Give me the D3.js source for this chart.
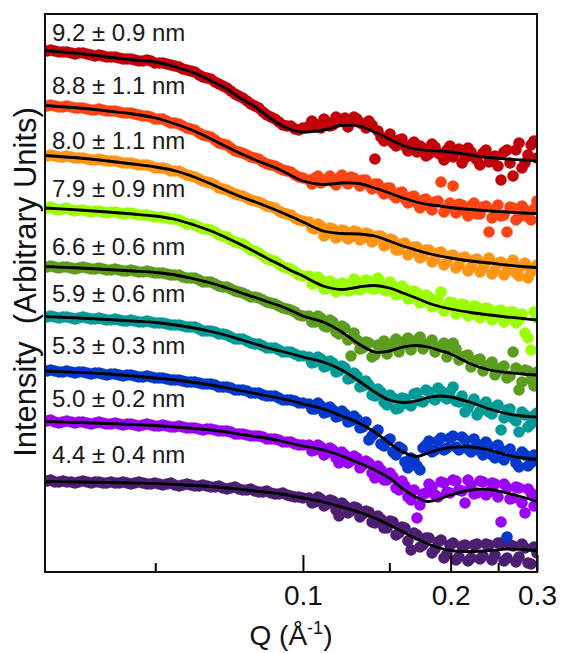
<!DOCTYPE html>
<html>
<head>
<meta charset="utf-8">
<script src="https://cdn.jsdelivr.net/npm/d3@7"></script>
<style>
  body { margin: 0; background: #fff; }
  svg { display: block; font-family: "Liberation Sans", Arial, Helvetica, sans-serif; }
</style>
</head>
<body>
<svg id="chart" width="561" height="653"></svg>
<script>
// Scattering vector Q (1/Å) of the model curves
const qFit = [0.0298, 0.035, 0.04, 0.045, 0.05, 0.055, 0.06, 0.065, 0.07, 0.075, 0.08, 0.085, 0.09, 0.095,
  0.1, 0.11, 0.12, 0.13, 0.14, 0.15, 0.16, 0.17, 0.18, 0.19, 0.2, 0.22, 0.24, 0.26, 0.28, 0.3];

// Scattering vector Q (1/Å) of the measured points, first frame set
const qScanA = [0.0301, 0.0312, 0.0324, 0.0337, 0.0349, 0.0363, 0.0377, 0.0391, 0.0406, 0.0422, 0.0438, 0.0454,
  0.0472, 0.0490, 0.0509, 0.0528, 0.0548, 0.0569, 0.0591, 0.0614, 0.0637, 0.0662, 0.0687, 0.0713, 0.0740,
  0.0769, 0.0798, 0.0829, 0.0860, 0.0893, 0.0928, 0.0963, 0.1000,
  0.1029, 0.1058, 0.1088, 0.1119, 0.1151, 0.1184, 0.1218, 0.1253, 0.1289, 0.1325, 0.1363, 0.1402, 0.1442,
  0.1484, 0.1526, 0.1570, 0.1614, 0.1661, 0.1708, 0.1757, 0.1807, 0.1859, 0.1912, 0.1966, 0.2023, 0.2080,
  0.2140, 0.2201, 0.2264, 0.2328, 0.2395, 0.2463, 0.2534, 0.2606, 0.2681, 0.2757, 0.2836, 0.2917, 0.3000];

// Scattering vector Q (1/Å) of the measured points, second frame set
const qScanB = [0.0306, 0.0318, 0.0330, 0.0343, 0.0356, 0.0370, 0.0384, 0.0398, 0.0414, 0.0430, 0.0446, 0.0463,
  0.0481, 0.0499, 0.0518, 0.0538, 0.0559, 0.0580, 0.0602, 0.0625, 0.0649, 0.0674, 0.0700, 0.0727, 0.0754,
  0.0783, 0.0813, 0.0844, 0.0877, 0.0910, 0.0945, 0.0981,
  0.1043, 0.1073, 0.1104, 0.1135, 0.1168, 0.1201, 0.1235, 0.1271, 0.1307, 0.1344, 0.1383, 0.1422, 0.1463,
  0.1505, 0.1548, 0.1592, 0.1637, 0.1684, 0.1732, 0.1782, 0.1833, 0.1885, 0.1939, 0.1994, 0.2051, 0.2110,
  0.2170, 0.2232, 0.2296, 0.2361, 0.2429, 0.2498, 0.2570, 0.2643, 0.2718, 0.2796, 0.2876, 0.2958];

// Fitted model intensities (log scale, arbitrary units, stacked with offsets)
const fit92 = [549.5, 546.5, 543, 540, 538, 533, 527, 519, 511, 501, 493, 483, 475, 470, 468, 470, 474.5, 474, 468, 461, 454.5, 451, 449.5, 449, 448, 445, 442.5, 441, 440, 439];
const fit88 = [494.5, 492, 489, 486, 482, 476, 469, 461, 453, 446, 440, 435, 430, 424, 419, 415.5, 417, 416.5, 412, 407, 402, 398, 395.5, 394, 392.5, 390.5, 389, 388, 387, 386.5];
const fit80 = [444.5, 442, 439, 436, 433, 429, 423, 416, 409, 403, 398, 393, 388, 383, 378, 369, 366.5, 366, 364, 359, 354, 350, 346.5, 344, 342, 339, 337, 335, 333.5, 332.5];
const fit79 = [392, 390, 388, 386, 384, 380.5, 375, 369, 362, 355, 348, 341, 335, 329, 324, 314, 310.5, 313, 314.5, 312, 307, 302, 297, 293.5, 291, 287.5, 285, 283, 281.5, 280];
const fit66 = [333.5, 332, 330.5, 329, 327.5, 325, 321, 317, 312, 307, 302.5, 298, 294, 289, 284, 278, 268, 256, 248, 249, 253, 254.5, 253, 249.5, 246, 236, 230, 227.5, 226, 225];
const fit59 = [283.5, 282, 280.5, 279, 277.5, 275, 272, 268.5, 264.5, 260, 256, 252, 249, 246, 243, 238, 230, 219, 208, 200, 197.5, 199, 202.5, 204, 203, 197.5, 191, 186.5, 184, 183];
const fit53 = [229, 227.5, 226, 224, 222, 220, 217.5, 215, 212, 209, 206.5, 204, 201.5, 199, 196, 191, 184, 177, 168, 157, 148, 143.5, 147, 150.5, 152.5, 153, 150, 145, 142, 140.5];
const fit50 = [178.5, 177.5, 176.5, 175.5, 174.5, 173, 171.5, 170, 168, 165.5, 163.5, 161.5, 159, 156.5, 154, 150, 144, 137, 130, 122, 111, 103, 98.5, 101, 105, 110, 110.5, 107, 103, 98.5];
const fit44 = [118.5, 118, 117.5, 117, 116.5, 115.5, 114.5, 113.5, 112, 110.5, 109, 107.5, 106, 104, 102, 98, 93, 88, 82, 75, 68, 61.5, 56, 52, 49.5, 48.5, 49.5, 51, 50.5, 49.5];

// Measured intensities on qScanA (log scale, arbitrary units, same offsets)
const obs92a = [549, 549, 548, 547, 547, 546, 544, 544, 543, 542, 541, 540, 539, 539, 537, 536, 534, 531, 529, 525, 522, 518, 514, 509, 504, 499, 494, 488, 483, 478, 474, 471, 472,
  474, 476, 472, 478, 475, 480, 482, 478, 481, 476, 479, 441, 463, 461, 457, 460, 454, 455, 448, 452, 446, 453, 445, 450, 443, 451, 442, 448, 440, 447, 438, 444, 420, 450, 424, 457, 437, 455, 442];
const obs88a = [494, 494, 493, 493, 492, 491, 490, 490, 489, 488, 487, 486, 484, 483, 481, 479, 477, 474, 471, 467, 464, 460, 456, 452, 448, 445, 442, 438, 435, 432, 429, 425, 422,
  420, 422, 417, 421, 418, 422, 419, 423, 418, 420, 415, 416, 410, 412, 405, 407, 401, 403, 397, 400, 394, 398, 418, 392, 414, 396, 389, 394, 386, 393, 368, 391, 384, 368, 392, 383, 390, 380, 399];
const obs80a = [444, 444, 443, 443, 442, 441, 440, 440, 439, 438, 437, 436, 435, 434, 432, 431, 429, 427, 424, 421, 418, 415, 411, 408, 405, 402, 399, 396, 393, 389, 386, 382, 379,
  378, 371, 374, 366, 371, 364, 369, 363, 368, 362, 366, 360, 364, 356, 360, 350, 357, 348, 353, 344, 350, 341, 348, 338, 345, 335, 343, 333, 341, 332, 342, 330, 338, 329, 340, 324, 337, 328, 335];
const obs79a = [392, 391, 391, 390, 390, 389, 389, 388, 388, 387, 387, 386, 385, 384, 383, 382, 381, 378, 376, 373, 371, 368, 364, 360, 357, 353, 349, 344, 340, 336, 332, 328, 324,
  324, 317, 320, 312, 317, 310, 316, 310, 318, 312, 319, 311, 317, 309, 314, 306, 311, 302, 307, 298, 303, 295, 308, 293, 297, 288, 295, 286, 293, 285, 291, 283, 290, 282, 288, 280, 267, 250, 282];
const obs66a = [333, 333, 333, 332, 332, 332, 331, 331, 330, 330, 329, 329, 328, 328, 327, 326, 325, 323, 322, 320, 318, 316, 313, 311, 308, 305, 303, 300, 297, 294, 291, 288, 284,
  284, 278, 282, 273, 278, 266, 272, 244, 260, 252, 257, 245, 254, 246, 257, 248, 259, 250, 260, 251, 256, 248, 253, 243, 257, 240, 244, 233, 240, 229, 235, 225, 232, 222, 248, 210, 230, 220, 228];
const obs59a = [283, 283, 283, 282, 282, 282, 281, 281, 280, 280, 279, 279, 278, 278, 277, 276, 275, 274, 273, 271, 269, 268, 266, 263, 261, 259, 256, 254, 252, 250, 248, 246, 244,
  243, 238, 241, 234, 237, 229, 232, 222, 224, 214, 215, 204, 208, 195, 202, 192, 201, 194, 207, 198, 208, 200, 209, 201, 213, 198, 188, 197, 185, 195, 188, 193, 170, 190, 182, 168, 185, 176, 187];
const obs53a = [229, 229, 228, 228, 228, 227, 227, 226, 226, 225, 225, 224, 223, 223, 222, 221, 220, 219, 218, 217, 216, 215, 213, 212, 210, 209, 207, 205, 204, 202, 200, 199, 197,
  196, 191, 194, 188, 190, 184, 186, 179, 181, 173, 160, 167, 156, 159, 148, 153, 138, 142, 134, 152, 159, 150, 162, 152, 164, 150, 160, 148, 156, 145, 154, 142, 150, 63, 144, 133, 145, 137, 142];
const obs50a = [179, 178, 178, 178, 178, 177, 177, 177, 176, 176, 176, 175, 175, 175, 174, 174, 173, 173, 172, 171, 171, 170, 169, 168, 166, 165, 164, 163, 161, 160, 158, 156, 155,
  155, 150, 153, 147, 150, 137, 145, 139, 142, 135, 137, 122, 130, 120, 123, 110, 114, 100, 82, 106, 116, 105, 118, 108, 120, 110, 97, 115, 107, 118, 108, 116, 78, 112, 102, 112, 87, 107, 100];
const obs44a = [119, 118, 119, 118, 118, 118, 118, 117, 118, 117, 117, 117, 117, 116, 116, 116, 115, 115, 115, 114, 114, 113, 112, 112, 111, 110, 109, 108, 107, 106, 105, 103, 102,
  102, 98, 101, 96, 99, 84, 94, 89, 92, 86, 88, 77, 81, 72, 78, 67, 72, 50, 65, 55, 62, 51, 60, 46, 57, 43, 55, 42, 56, 44, 55, 45, 57, 42, 54, 43, 52, 36, 47];

// Measured intensities on qScanB
const obs92b = [550, 548, 548, 546, 547, 545, 545, 543, 543, 541, 541, 539, 540, 537, 537, 535, 533, 530, 528, 523, 521, 516, 512, 506, 502, 496, 492, 485, 481, 475, 474, 470,
  479, 473, 481, 474, 483, 479, 473, 483, 477, 472, 475, 469, 459, 466, 454, 461, 449, 458, 454, 444, 456, 447, 440, 454, 448, 437, 452, 443, 435, 450, 441, 434, 448, 437, 450, 432, 445, 459];
const obs88b = [495, 493, 494, 492, 492, 490, 491, 489, 489, 487, 487, 485, 484, 481, 481, 477, 476, 472, 470, 465, 463, 457, 455, 449, 447, 443, 441, 436, 434, 430, 428, 423,
  416, 424, 419, 424, 415, 425, 416, 422, 414, 420, 411, 416, 406, 412, 402, 408, 397, 404, 392, 401, 390, 399, 388, 397, 387, 395, 384, 397, 386, 394, 382, 395, 385, 393, 380, 394, 383, 391];
const obs80b = [445, 443, 444, 442, 442, 440, 441, 439, 439, 437, 437, 435, 435, 432, 432, 429, 429, 425, 423, 419, 417, 412, 410, 406, 404, 400, 398, 394, 392, 387, 385, 380,
  372, 376, 364, 372, 362, 370, 361, 369, 360, 367, 358, 364, 354, 361, 350, 356, 345, 353, 342, 350, 338, 347, 335, 344, 332, 342, 329, 340, 328, 338, 326, 337, 325, 336, 327, 334, 322, 332];
const obs79b = [393, 390, 392, 389, 390, 388, 389, 387, 388, 386, 387, 385, 385, 383, 383, 381, 380, 376, 375, 371, 370, 365, 363, 358, 356, 350, 347, 341, 339, 333, 331, 325,
  316, 323, 311, 319, 308, 317, 309, 321, 310, 320, 311, 322, 310, 318, 305, 314, 301, 309, 297, 305, 293, 301, 289, 298, 286, 296, 284, 294, 282, 292, 280, 289, 278, 288, 277, 286, 262, 288];
const obs66b = [334, 332, 333, 331, 333, 331, 332, 330, 331, 329, 330, 328, 329, 327, 327, 325, 325, 322, 322, 318, 318, 314, 313, 309, 307, 303, 302, 298, 296, 292, 290, 285,
  278, 284, 274, 280, 268, 274, 260, 267, 251, 258, 243, 255, 259, 253, 261, 255, 262, 257, 263, 256, 260, 253, 257, 249, 251, 243, 245, 238, 241, 234, 238, 229, 234, 224, 232, 218, 229, 214];
const obs59b = [284, 282, 283, 281, 283, 281, 282, 280, 281, 279, 280, 278, 279, 277, 277, 275, 275, 273, 273, 269, 269, 266, 265, 261, 261, 257, 256, 252, 252, 248, 248, 244,
  237, 243, 233, 239, 228, 234, 221, 227, 213, 219, 205, 211, 198, 205, 191, 202, 196, 206, 199, 210, 202, 212, 203, 208, 199, 204, 192, 201, 189, 198, 186, 195, 182, 191, 179, 188, 173, 184];
const obs53b = [230, 228, 229, 227, 228, 226, 227, 225, 226, 224, 225, 223, 224, 222, 222, 220, 220, 218, 218, 216, 216, 213, 213, 210, 210, 207, 207, 204, 204, 200, 200, 197,
  191, 197, 187, 193, 183, 189, 178, 184, 172, 178, 164, 170, 154, 161, 145, 151, 132, 140, 130, 155, 148, 159, 150, 162, 153, 163, 151, 161, 149, 158, 145, 155, 140, 151, 137, 148, 134, 145];
const obs50b = [180, 177, 179, 177, 178, 176, 178, 176, 177, 175, 176, 174, 176, 174, 175, 173, 174, 172, 172, 170, 171, 169, 169, 166, 166, 164, 164, 161, 161, 158, 158, 155,
  149, 155, 145, 152, 142, 148, 137, 144, 132, 139, 127, 134, 120, 127, 112, 119, 103, 110, 95, 107, 113, 103, 117, 107, 119, 109, 120, 106, 119, 105, 117, 103, 116, 101, 113, 97, 111, 94];
const obs44b = [120, 118, 118, 117, 119, 117, 118, 117, 117, 118, 116, 118, 116, 117, 115, 117, 114, 116, 114, 115, 113, 114, 111, 113, 110, 111, 108, 109, 106, 107, 104, 103,
  97, 103, 94, 100, 90, 97, 87, 93, 83, 89, 78, 84, 72, 79, 65, 73, 59, 67, 53, 62, 47, 58, 42, 55, 40, 54, 39, 55, 41, 56, 40, 57, 39, 55, 38, 56, 37, 53];

// Particle sizes and series colours, top to bottom
const sizeLabels = ["9.2 ± 0.9 nm", "8.8 ± 1.1 nm", "8.0 ± 1.1 nm", "7.9 ± 0.9 nm", "6.6 ± 0.6 nm",
  "5.9 ± 0.6 nm", "5.3 ± 0.3 nm", "5.0 ± 0.2 nm", "4.4 ± 0.4 nm"];
const seriesColors = ["#c1000a", "#ff4513", "#ff9416", "#9aff00", "#5c9c1f", "#029b98", "#0538cc", "#9b05f5", "#4d1f73"];
const majorTicks = [0.1, 0.2, 0.3];
const minorTicks = [0.05, 0.15, 0.25];

const fits = [fit92, fit88, fit80, fit79, fit66, fit59, fit53, fit50, fit44];
const obsA = [obs92a, obs88a, obs80a, obs79a, obs66a, obs59a, obs53a, obs50a, obs44a];
const obsB = [obs92b, obs88b, obs80b, obs79b, obs66b, obs59b, obs53b, obs50b, obs44b];

const series = sizeLabels.map((label, i) => ({
  label,
  color: seriesColors[i],
  fit: qFit.map((q, j) => ({ q, v: fits[i][j] })),
  obs: qScanA.map((q, j) => ({ q, v: obsA[i][j] }))
    .concat(qScanB.map((q, j) => ({ q, v: obsB[i][j] })))
}));

const svg = d3.select("#chart");
const margin = { left: 45, right: 24, top: 14, bottom: 81 };
const W = 561, H = 653;

const x = d3.scaleLog().domain([0.0298, 0.3]).range([margin.left, W - margin.right]);
const y = d3.scaleLinear().domain([28, 586]).range([H - margin.bottom, margin.top]);

svg.append("defs").append("clipPath").attr("id", "plotClip")
  .append("rect")
  .attr("x", margin.left).attr("y", margin.top)
  .attr("width", W - margin.left - margin.right)
  .attr("height", H - margin.top - margin.bottom);

const plot = svg.append("g").attr("clip-path", "url(#plotClip)");

const line = d3.line()
  .x(d => x(d.q))
  .y(d => y(d.v))
  .curve(d3.curveCatmullRom.alpha(0.5));

// lower curves first so upper ones sit on top
series.slice().reverse().forEach(s => {
  const g = plot.append("g");
  g.selectAll("circle").data(s.obs).join("circle")
    .attr("cx", d => x(d.q))
    .attr("cy", d => y(d.v))
    .attr("r", 5.8)
    .attr("fill", s.color);
  g.append("path")
    .datum(s.fit)
    .attr("fill", "none")
    .attr("stroke", "#000")
    .attr("stroke-width", 2.8)
    .attr("d", line);
});

// size annotations
const labelBaselines = [41, 94, 149, 197, 255, 302, 354, 407, 463];
svg.append("g").selectAll("text").data(series).join("text")
  .attr("x", 52)
  .attr("y", (d, i) => labelBaselines[i])
  .attr("font-size", 24)
  .attr("fill", "#1a1a1a")
  .text(d => d.label);

// bottom axis: major and minor ticks pointing inward
const bottom = H - margin.bottom;
const majorAxis = d3.axisBottom(x).tickValues(majorTicks).tickFormat(d3.format(".1f"))
  .tickSizeInner(-17).tickSizeOuter(0).tickPadding(13);
const gMajor = svg.append("g").attr("transform", `translate(0,${bottom})`).call(majorAxis);
gMajor.select(".domain").remove();
gMajor.selectAll("line").attr("stroke", "#000").attr("stroke-width", 2);
gMajor.selectAll("text").attr("font-size", 28).attr("fill", "#111")
  .attr("font-family", "Liberation Sans, Arial, sans-serif");

const minorAxis = d3.axisBottom(x).tickValues(minorTicks).tickFormat("")
  .tickSizeInner(-9).tickSizeOuter(0);
const gMinor = svg.append("g").attr("transform", `translate(0,${bottom})`).call(minorAxis);
gMinor.select(".domain").remove();
gMinor.selectAll("line").attr("stroke", "#000").attr("stroke-width", 2);

// plot frame
svg.append("rect")
  .attr("x", margin.left).attr("y", margin.top)
  .attr("width", W - margin.left - margin.right)
  .attr("height", H - margin.top - margin.bottom)
  .attr("fill", "none").attr("stroke", "#111").attr("stroke-width", 2);

// axis titles
const xTitle = svg.append("text")
  .attr("x", 291).attr("y", 645)
  .attr("text-anchor", "middle")
  .attr("font-size", 28).attr("fill", "#111");
xTitle.append("tspan").text("Q (Å");
xTitle.append("tspan").attr("font-size", 18).attr("dy", -11).text("-1");
xTitle.append("tspan").attr("dy", 11).text(")");

svg.append("text")
  .attr("transform", "translate(36,282) rotate(-90)")
  .attr("text-anchor", "middle")
  .attr("font-size", 31).attr("fill", "#111")
  .text("Intensity\u00a0\u00a0(Arbitrary Units)");
</script>
</body>
</html>
